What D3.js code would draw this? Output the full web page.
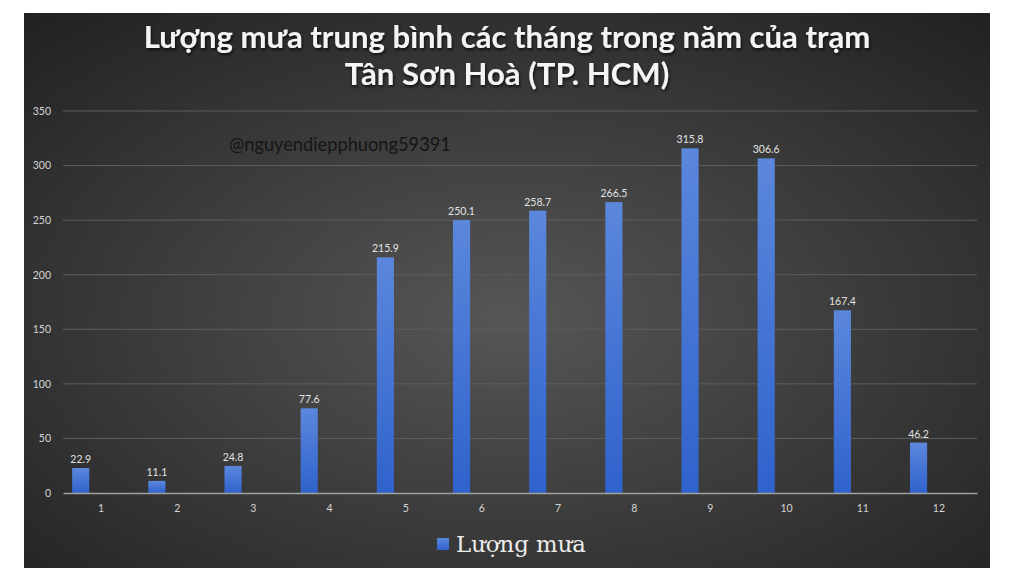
<!DOCTYPE html>
<html>
<head>
<meta charset="utf-8">
<script src="https://cdn.jsdelivr.net/npm/d3@7"></script>
<style>
  html, body { margin: 0; padding: 0; background: #fff; }
  svg { display: block; }
</style>
</head>
<body>
<svg id="chart" width="1024" height="582"></svg>
<script>
// data
var months = ['1', '2', '3', '4', '5', '6', '7', '8', '9', '10', '11', '12'];
var rainfall = [22.9, 11.1, 24.8, 77.6, 215.9, 250.1, 258.7, 266.5, 315.8, 306.6, 167.4, 46.2];
var yTicks = [0, 50, 100, 150, 200, 250, 300, 350];
var titleLines = ['Lượng mưa trung bình các tháng trong năm của trạm', 'Tân Sơn Hoà (TP. HCM)'];
var seriesName = 'Lượng mưa';
var watermark = '@nguyendiepphuong59391';

var svg = d3.select('#chart');
var defs = svg.append('defs');

var bg = defs.append('radialGradient').attr('id', 'bg')
    .attr('cx', '50%').attr('cy', '55%').attr('r', '75%');
bg.append('stop').attr('offset', '0%').attr('stop-color', '#565656');
bg.append('stop').attr('offset', '100%').attr('stop-color', '#202020');

var barGrad = defs.append('linearGradient').attr('id', 'bar')
    .attr('x1', 0).attr('y1', 0).attr('x2', 0).attr('y2', 1);
barGrad.append('stop').attr('offset', '0%').attr('stop-color', '#5b87dc');
barGrad.append('stop').attr('offset', '100%').attr('stop-color', '#2f62cc');

var shadow = defs.append('filter').attr('id', 'shadow')
    .attr('x', '-5%').attr('y', '-20%').attr('width', '110%').attr('height', '150%');
shadow.append('feDropShadow').attr('dx', 1).attr('dy', 2)
    .attr('stdDeviation', 1.5).attr('flood-color', '#000').attr('flood-opacity', 0.7);

// fit a text node to a given width by scaling its font size
function fitWidth(sel, size, width) {
  var len = sel.node().getComputedTextLength();
  sel.style('font-size', (size * width / len) + 'px');
}

// chart area
svg.append('rect')
    .attr('x', 24).attr('y', 13).attr('width', 966).attr('height', 555)
    .attr('fill', 'url(#bg)');

var margin = {left: 63, right: 977, top: 111, bottom: 493};

var x = d3.scaleBand().domain(months).range([margin.left, margin.right]).padding(0);
var y = d3.scaleLinear().domain([0, 350]).range([margin.bottom, margin.top]);

// gridlines
svg.append('g')
    .selectAll('line')
    .data(yTicks.filter(function(d) { return d > 0; }))
    .enter().append('line')
    .attr('x1', margin.left).attr('x2', margin.right)
    .attr('y1', function(d) { return y(d); })
    .attr('y2', function(d) { return y(d); })
    .attr('stroke', '#5e5e5e').attr('stroke-width', 1);

// y axis labels
var yAxis = svg.append('g')
    .attr('transform', 'translate(' + (margin.left - 12) + ',0)')
    .call(d3.axisLeft(y).tickValues(yTicks).tickSize(0).tickPadding(0));
yAxis.select('.domain').remove();
yAxis.selectAll('text')
    .attr('fill', '#d4d4d4')
    .style('font-family', 'Lato, "Open Sans", sans-serif')
    .style('font-size', '10.5px');

// bars: clustered layout with an empty second slot, so bar sits left in its band
var barOffset = x.bandwidth() * 0.12;
var barWidth = x.bandwidth() * 0.225;

svg.append('g')
    .selectAll('rect')
    .data(rainfall)
    .enter().append('rect')
    .attr('x', function(d, i) { return x(months[i]) + barOffset; })
    .attr('y', function(d) { return y(d); })
    .attr('width', barWidth)
    .attr('height', function(d) { return y(0) - y(d); })
    .attr('fill', 'url(#bar)');

// data labels
svg.append('g')
    .selectAll('text')
    .data(rainfall)
    .enter().append('text')
    .attr('x', function(d, i) { return x(months[i]) + barOffset + barWidth / 2; })
    .attr('y', function(d) { return y(d) - 5; })
    .attr('text-anchor', 'middle')
    .attr('fill', '#e2e2e2')
    .style('font-family', 'Lato, "Open Sans", sans-serif')
    .style('font-size', '10.5px')
    .text(function(d) { return d.toFixed(1); });

// x axis
var xAxis = svg.append('g')
    .attr('transform', 'translate(0,' + margin.bottom + ')')
    .call(d3.axisBottom(x).tickSize(0).tickPadding(12));
xAxis.select('.domain').attr('stroke', '#a0a0a0').attr('stroke-width', 1.5);
xAxis.selectAll('text')
    .attr('fill', '#d4d4d4')
    .style('font-family', 'Lato, "Open Sans", sans-serif')
    .style('font-size', '10.5px');

// title
var title = svg.append('g').attr('filter', 'url(#shadow)');
title.selectAll('text')
    .data(titleLines)
    .enter().append('text')
    .attr('x', 507)
    .attr('y', function(d, i) { return 48 + i * 37; })
    .attr('text-anchor', 'middle')
    .attr('fill', '#f4f4f4')
    .style('font-family', 'Lato, "Open Sans", sans-serif')
    .style('font-weight', 'bold')
    .style('font-size', '26px')
    .text(function(d) { return d; });

// first title line has ~727px width in the picture
var firstLine = title.select('text').node();
var fitSize = 26 * 727 / firstLine.getComputedTextLength();
title.selectAll('text').style('font-size', fitSize + 'px');

// watermark
var wm = svg.append('text')
    .attr('x', 229).attr('y', 151)
    .attr('fill', '#151515')
    .style('font-family', 'Lato, "Open Sans", sans-serif')
    .style('font-size', '16px')
    .text(watermark);
fitWidth(wm, 16, 222);

// legend
var legend = svg.append('g');
legend.append('rect')
    .attr('x', 437).attr('y', 538).attr('width', 12).attr('height', 12)
    .attr('fill', 'url(#bar)');
var legendText = legend.append('text')
    .attr('x', 456).attr('y', 552)
    .attr('fill', '#ececec')
    .style('font-family', '"DejaVu Serif", "Liberation Serif", serif')
    .style('font-size', '21px')
    .text(seriesName);
fitWidth(legendText, 21, 130);
</script>
</body>
</html>
